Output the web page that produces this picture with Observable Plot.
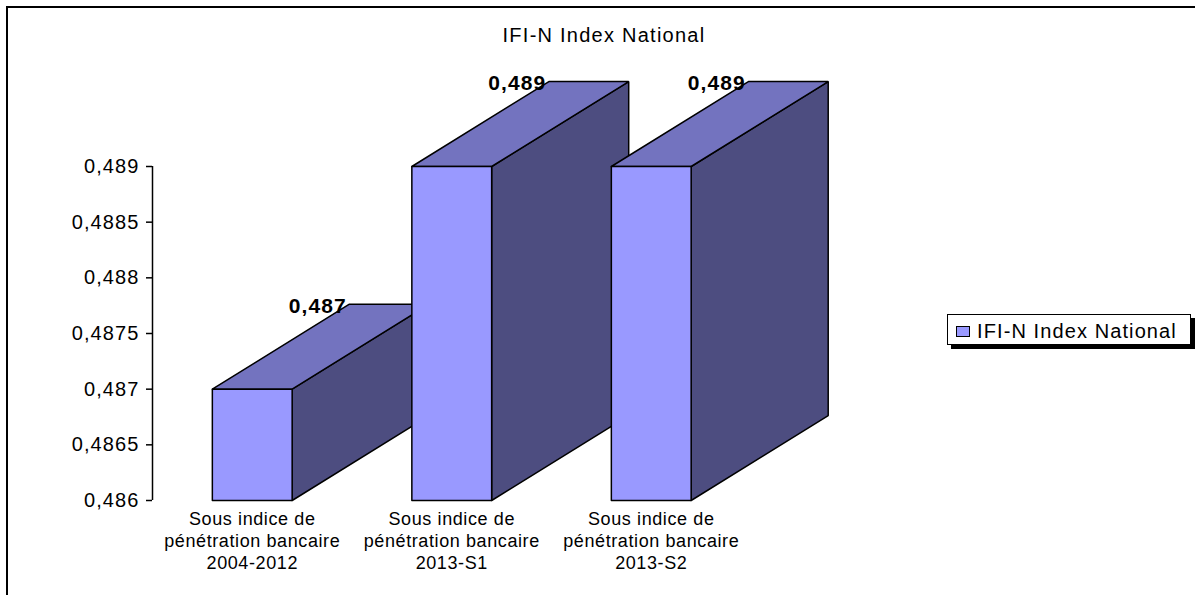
<!DOCTYPE html>
<html><head><meta charset="utf-8">
<script src="https://cdn.jsdelivr.net/npm/d3@7"></script>
<script src="https://cdn.jsdelivr.net/npm/@observablehq/plot@0.6"></script>
<style>
html,body{margin:0;padding:0;background:#fff;overflow:hidden}
#wrap{position:relative;width:1195px;height:595px;font-family:"Liberation Sans",Arial,sans-serif;color:#000}
#frame{position:absolute;left:6px;top:6px;width:1189px;height:589px;border-left:2px solid #000;border-top:2px solid #000;box-sizing:border-box}
#title{position:absolute;left:0;width:1208px;top:24px;text-align:center;font-size:20px;letter-spacing:1.25px;line-height:22px}
#legend{position:absolute;left:947px;top:314px;width:244px;height:31px;box-sizing:border-box;border:1.5px solid #000;background:#fff;box-shadow:4px 4px 0 #000;font-size:20px;letter-spacing:1.1px;line-height:33px;padding-left:29px;white-space:nowrap}
#legend i{position:absolute;left:8px;top:11px;width:14px;height:11px;box-sizing:border-box;background:#9999ff;border:1.5px solid #000}
svg{position:absolute;left:0;top:0}
g[aria-label="y-axis tick label"]{letter-spacing:1.1px}
g[aria-label="x-axis tick label"]{letter-spacing:.6px}
g[aria-label="text"]{letter-spacing:1.1px}
</style></head><body>
<div id="wrap"><div id="frame"></div><div id="chart"></div>
<div id="title">IFI-N Index National</div>
<div id="legend"><i></i>IFI-N Index National</div></div>
<script>
const categories = ["Sous indice de\npénétration bancaire\n2004-2012","Sous indice de\npénétration bancaire\n2013-S1","Sous indice de\npénétration bancaire\n2013-S2"];
const values = [0.487,0.489,0.489];
const labels = ["0,487","0,489","0,489"];
const yTicks = [0.486,0.4865,0.487,0.4875,0.488,0.4885,0.489];
const base = 0.486, half = 0.2, depthX = 0.687, depthY = 0.000763;
const faceColors = {front:"#9999ff", top:"#7373bf", side:"#4d4d80"};

const faces = [];
values.forEach((v,i)=>{
  const l=i-half, r=i+half, L=l+depthX, R=r+depthX, t=v+depthY, b=base+depthY;
  const add=(face,pts)=>pts.concat([pts[0]]).forEach(p=>faces.push({z:i+"-"+face,face,x:p[0],y:p[1]}));
  add("side",[[r,base],[R,b],[R,t],[r,v]]);
  add("top",[[l,v],[r,v],[R,t],[L,t]]);
  add("front",[[l,base],[r,base],[r,v],[l,v]]);
});

const plot = Plot.plot({
  width:1195, height:595,
  marginLeft:152, marginRight:444.5, marginTop:166, marginBottom:95,
  style:{background:"transparent",fontFamily:'"Liberation Sans",Arial,sans-serif',overflow:"visible"},
  x:{domain:[-0.5,2.5],axis:null},
  y:{domain:[base,0.489],axis:null},
  marks:[
    Plot.line(faces,{x:"x",y:"y",z:"z",fill:d=>faceColors[d.face],stroke:"#000",strokeWidth:1.5,strokeLinejoin:"miter",curve:"linear"}),
    Plot.ruleX([-0.5],{y1:base,y2:0.489,stroke:"#000",strokeWidth:1.5}),
    Plot.axisY({ticks:yTicks,anchor:"left",tickSize:6,tickPadding:7,stroke:"#000",strokeWidth:1.5,strokeOpacity:1,label:null,
      tickFormat:d=>String(+d.toFixed(4)).replace(".",","),fontSize:20}),
    Plot.axisX({ticks:[0,1,2],anchor:"bottom",tickSize:0,tickPadding:9,label:null,lineHeight:1.22,
      tickFormat:i=>categories[i],fontSize:18}),
    Plot.text(values,{x:(d,i)=>i,y:d=>d+depthY,text:(d,i)=>labels[i],dx:65.5,dy:2,fontWeight:"bold",fontSize:21,fill:"#000"})
  ]
});
document.getElementById("chart").appendChild(plot);
</script></body></html>
